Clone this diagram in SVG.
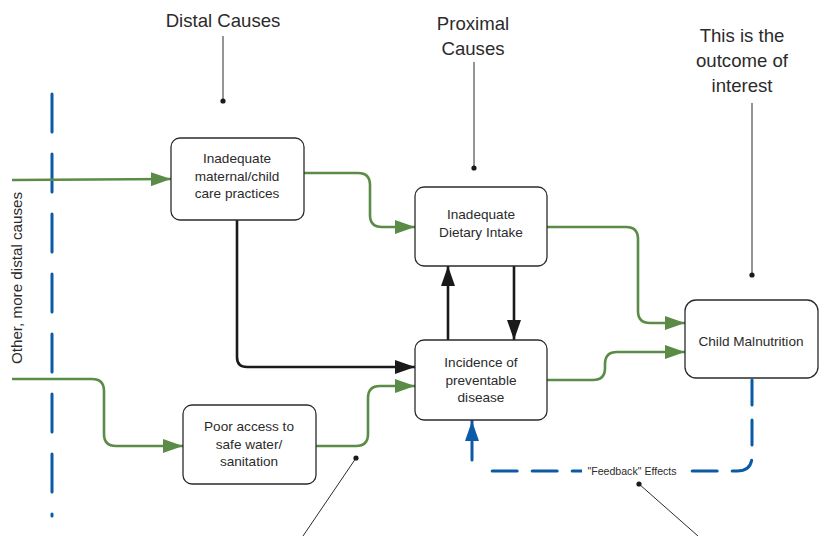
<svg xmlns="http://www.w3.org/2000/svg" width="829" height="536" viewBox="0 0 829 536">
<style>
.node rect{fill:#fff;stroke:#2b2b2b;stroke-width:1.3}
text{font-family:"Liberation Sans",Arial,sans-serif;fill:#2b2b2b}
.nt{font-size:13.6px;text-anchor:middle}
.lab{font-size:18.6px;text-anchor:middle}
.g{fill:none;stroke:#5b8c47;stroke-width:2.6}
.k{fill:none;stroke:#1a1a1a;stroke-width:2.6}
.b{fill:none;stroke:#0b5aa8;stroke-width:3;stroke-linecap:round}
.ann{stroke:#2b2b2b;stroke-width:1}
</style>
<defs>
<marker id="ag" viewBox="0 0 20 14" refX="20" refY="7" markerWidth="20" markerHeight="14" markerUnits="userSpaceOnUse" orient="auto"><path d="M0,0 L20,7 L0,14 z" fill="#5b8c47"/></marker>
<marker id="ak" viewBox="0 0 20 14" refX="20" refY="7" markerWidth="20" markerHeight="14" markerUnits="userSpaceOnUse" orient="auto"><path d="M0,0 L20,7 L0,14 z" fill="#1a1a1a"/></marker>
<marker id="ab" viewBox="0 0 20 14" refX="20" refY="7" markerWidth="20" markerHeight="14" markerUnits="userSpaceOnUse" orient="auto"><path d="M0,0 L20,7 L0,14 z" fill="#0b5aa8"/></marker>
</defs>

<g id="boundary">
<line class="b" x1="52" y1="94" x2="52" y2="516" stroke-dasharray="38 22"/>
<text transform="translate(22,278) rotate(-90)" font-size="15.2" text-anchor="middle">Other, more distal causes</text>
</g>

<g id="connectors">
<path class="g" d="M12,180 L171,179" marker-end="url(#ag)"/>
<path class="g" d="M304,173 L358,173 Q370,173 370,185 L370,215 Q370,227 382,227 L415,227" marker-end="url(#ag)"/>
<path class="k" d="M237,220 L237,357 Q237,367 247,367 L415,367" marker-end="url(#ak)"/>
<path class="g" d="M12,379 L92,379 Q104,379 104,391 L104,434 Q104,446 116,446 L183,446" marker-end="url(#ag)"/>
<path class="g" d="M316,446 L356,446 Q368,446 368,434 L368,398 Q368,386 380,386 L415,386" marker-end="url(#ag)"/>
<path class="k" d="M448,340 L448,266" marker-end="url(#ak)"/>
<path class="k" d="M514,266 L514,340" marker-end="url(#ak)"/>
<path class="g" d="M547,227 L626,227 Q638,227 638,239 L638,311 Q638,323 650,323 L685,323" marker-end="url(#ag)"/>
<path class="g" d="M547,380 L593,380 Q605,380 605,368 L605,364 Q605,352 617,352 L685,352" marker-end="url(#ag)"/>
<path class="b" d="M752,380 L752,456 Q752,471 737,471 L485,471" stroke-dasharray="25 15"/>
<path class="b" d="M472,460 L472,421" marker-end="url(#ab)" stroke-linecap="butt"/>
<rect x="582" y="463" width="102" height="15" fill="#fff"/>
<text x="632" y="475" font-size="10.6" text-anchor="middle">"Feedback" Effects</text>
</g>

<g id="annotations">
<text class="lab" x="223" y="27">Distal Causes</text>
<line class="ann" x1="223" y1="36" x2="223" y2="101"/>
<circle cx="223" cy="101" r="2.6" fill="#1a1a1a"/>
<text class="lab" x="473" y="30">Proximal</text>
<text class="lab" x="473" y="55">Causes</text>
<line class="ann" x1="474" y1="62" x2="474" y2="168"/>
<circle cx="474" cy="168" r="2.6" fill="#1a1a1a"/>
<text class="lab" x="742" y="42">This is the</text>
<text class="lab" x="742" y="67">outcome of</text>
<text class="lab" x="742" y="92">interest</text>
<line class="ann" x1="752" y1="103" x2="752" y2="275"/>
<circle cx="752" cy="275" r="2.6" fill="#1a1a1a"/>
<line class="ann" x1="356" y1="458" x2="303" y2="536"/>
<circle cx="356" cy="458" r="2.6" fill="#1a1a1a"/>
<line class="ann" x1="639" y1="484" x2="698" y2="536"/>
<circle cx="639" cy="484" r="2.6" fill="#1a1a1a"/>
</g>

<g id="maternal" class="node">
<rect x="171" y="138" width="133" height="82" rx="9"/>
<text class="nt" x="237" y="163">Inadequate</text>
<text class="nt" x="237" y="181">maternal/child</text>
<text class="nt" x="237" y="198">care practices</text>
</g>
<g id="dietary" class="node">
<rect x="415" y="187" width="132" height="79" rx="9"/>
<text class="nt" x="481" y="219">Inadequate</text>
<text class="nt" x="481" y="237">Dietary Intake</text>
</g>
<g id="disease" class="node">
<rect x="415" y="340" width="132" height="80" rx="9"/>
<text class="nt" x="481" y="367">Incidence of</text>
<text class="nt" x="481" y="385">preventable</text>
<text class="nt" x="481" y="402">disease</text>
</g>
<g id="water" class="node">
<rect x="183" y="405" width="133" height="79" rx="9"/>
<text class="nt" x="249" y="431">Poor access to</text>
<text class="nt" x="249" y="449">safe water/</text>
<text class="nt" x="249" y="466">sanitation</text>
</g>
<g id="malnutrition" class="node">
<rect x="685" y="300" width="133" height="78" rx="11"/>
<text class="nt" x="751" y="346">Child Malnutrition</text>
</g>
</svg>
